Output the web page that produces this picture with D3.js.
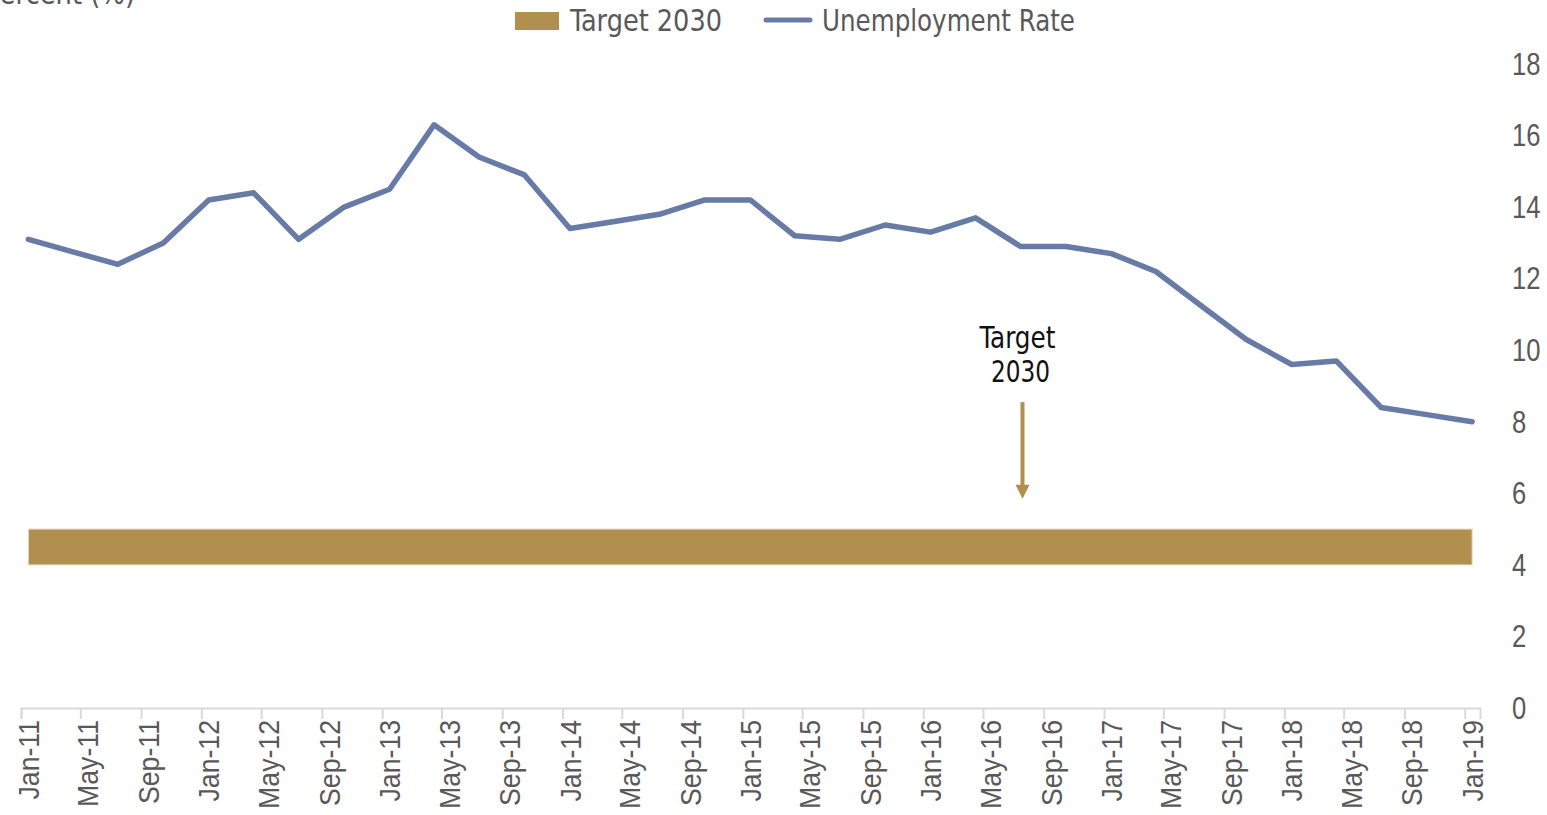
<!DOCTYPE html>
<html>
<head>
<meta charset="utf-8">
<script src="https://cdn.jsdelivr.net/npm/d3@7"></script>
<style>
  body { margin: 0; background: #fff; }
  svg { display: block; font-family: "Liberation Sans Narrow", "DejaVu Sans Condensed", sans-serif; }
</style>
</head>
<body>
<div id="chart"></div>
<script>
// quarterly observations, mid-month
const dates = [
  '2011-01', '2011-04', '2011-07', '2011-10',
  '2012-01', '2012-04', '2012-07', '2012-10',
  '2013-01', '2013-04', '2013-07', '2013-10',
  '2014-01', '2014-04', '2014-07', '2014-10',
  '2015-01', '2015-04', '2015-07', '2015-10',
  '2016-01', '2016-04', '2016-07', '2016-10',
  '2017-01', '2017-04', '2017-07', '2017-10',
  '2018-01', '2018-04', '2018-07', '2018-10',
  '2019-01'
];
const unemployment = [
  13.1, 12.75, 12.4, 13.0,
  14.2, 14.4, 13.1, 14.0,
  14.5, 16.3, 15.4, 14.9,
  13.4, 13.6, 13.8, 14.2,
  14.2, 13.2, 13.1, 13.5,
  13.3, 13.7, 12.9, 12.9,
  12.7, 12.2, 11.25, 10.3,
  9.6, 9.7, 8.4, 8.2,
  8.0
];
const targetLow = 4;
const targetHigh = 5;
const yTicks = [0, 2, 4, 6, 8, 10, 12, 14, 16, 18];
const seriesNames = ['Target 2030', 'Unemployment Rate'];
const annotation = { date: '2016-07-20', top: 8.55, bottom: 5.85, text: ['Target', '2030'] };

const W = 1547, H = 815;
const gold = '#B08F4F', blue = '#677BA6', grey = '#595959';

const parse = d3.timeParse('%Y-%m-%d');
const mid = s => parse(s + '-16');

const x = d3.scaleTime()
  .domain([parse('2011-01-01'), parse('2019-02-01')])
  .range([21, 1480]);
const y = d3.scaleLinear().domain([0, 18]).range([708, 64]);

const svg = d3.select('#chart').append('svg')
  .attr('width', W).attr('height', H);

// y label, cropped at top like the original
svg.append('text')
  .attr('x', 135).attr('y', 4)
  .attr('text-anchor', 'end')
  .attr('fill', grey)
  .attr('font-size', 30)
  .attr('textLength', 150).attr('lengthAdjust', 'spacingAndGlyphs')
  .text('Percent (%)');

// target band
svg.append('rect')
  .attr('x', x(mid(dates[0])))
  .attr('width', x(mid(dates[dates.length - 1])) - x(mid(dates[0])))
  .attr('y', y(targetHigh))
  .attr('height', y(targetLow) - y(targetHigh))
  .attr('fill', gold)
  .attr('stroke', '#E6D7B8')
  .attr('stroke-width', 1);

// x axis: ticks every 4 months
const tickDates = d3.timeMonth.every(4).range(parse('2011-01-01'), parse('2019-01-02'));
const xAxis = svg.append('g')
  .attr('transform', 'translate(0,708)')
  .call(d3.axisBottom(x).tickValues(tickDates).tickSize(11).tickFormat(''));
xAxis.select('.domain').attr('stroke', '#D9D9D9').attr('stroke-width', 2);
xAxis.selectAll('.tick line').attr('stroke', '#D9D9D9').attr('stroke-width', 2);

// x labels centred in their month
const labelAxis = svg.append('g')
  .attr('transform', 'translate(0,708)')
  .call(d3.axisBottom(x)
    .tickValues(tickDates.map(d => d3.timeDay.offset(d, 15)))
    .tickSize(0)
    .tickFormat(d3.timeFormat('%b-%y')));
labelAxis.select('.domain').remove();
labelAxis.selectAll('text')
  .attr('transform', 'rotate(-90) scale(0.92,1)')
  .attr('text-anchor', 'end')
  .attr('x', -13).attr('y', 0)
  .attr('dy', '0.35em')
  .attr('fill', grey)
  .attr('font-size', 29)
  .attr('font-family', null);

// y axis on right
const yAxis = svg.append('g')
  .attr('transform', 'translate(1500,0)')
  .call(d3.axisRight(y).tickValues(yTicks).tickSize(0).tickPadding(15));
yAxis.select('.domain').remove();
yAxis.selectAll('text')
  .attr('transform', 'scale(0.8,1)')
  .attr('fill', grey)
  .attr('font-size', 32)
  .attr('font-family', null);

// unemployment line
const line = d3.line()
  .x((d, i) => x(mid(dates[i])))
  .y(d => y(d));
svg.append('path')
  .datum(unemployment)
  .attr('fill', 'none')
  .attr('stroke', blue)
  .attr('stroke-width', 5.5)
  .attr('stroke-linejoin', 'round')
  .attr('stroke-linecap', 'round')
  .attr('d', line);

// annotation
const ax = x(parse(annotation.date));
svg.append('line')
  .attr('x1', ax).attr('x2', ax)
  .attr('y1', y(annotation.top)).attr('y2', y(annotation.bottom) - 12)
  .attr('stroke', gold).attr('stroke-width', 4);
svg.append('path')
  .attr('d', `M${ax - 7},${y(annotation.bottom) - 14}L${ax + 7},${y(annotation.bottom) - 14}L${ax},${y(annotation.bottom)}Z`)
  .attr('fill', gold);
const lens = [76, 59];
svg.append('text')
  .attr('text-anchor', 'middle')
  .attr('font-size', 30)
  .attr('font-weight', 500)
  .attr('fill', '#111')
  .selectAll('tspan')
  .data(annotation.text)
  .join('tspan')
  .attr('x', (d, i) => ax - 5 + i * 3)
  .attr('y', (d, i) => 348 + i * 34)
  .attr('textLength', (d, i) => lens[i])
  .attr('lengthAdjust', 'spacingAndGlyphs')
  .text(d => d);

// legend
const legend = svg.append('g');
legend.append('rect')
  .attr('x', 515).attr('y', 12).attr('width', 44).attr('height', 18)
  .attr('fill', gold);
legend.append('text')
  .attr('x', 570).attr('y', 31)
  .attr('fill', grey).attr('font-size', 31)
  .attr('textLength', 152).attr('lengthAdjust', 'spacingAndGlyphs')
  .text(seriesNames[0]);
legend.append('line')
  .attr('x1', 766).attr('x2', 810).attr('y1', 20).attr('y2', 20)
  .attr('stroke', blue).attr('stroke-width', 5).attr('stroke-linecap', 'round');
legend.append('text')
  .attr('x', 822).attr('y', 31)
  .attr('fill', grey).attr('font-size', 31)
  .attr('textLength', 253).attr('lengthAdjust', 'spacingAndGlyphs')
  .text(seriesNames[1]);
</script>
</body>
</html>
